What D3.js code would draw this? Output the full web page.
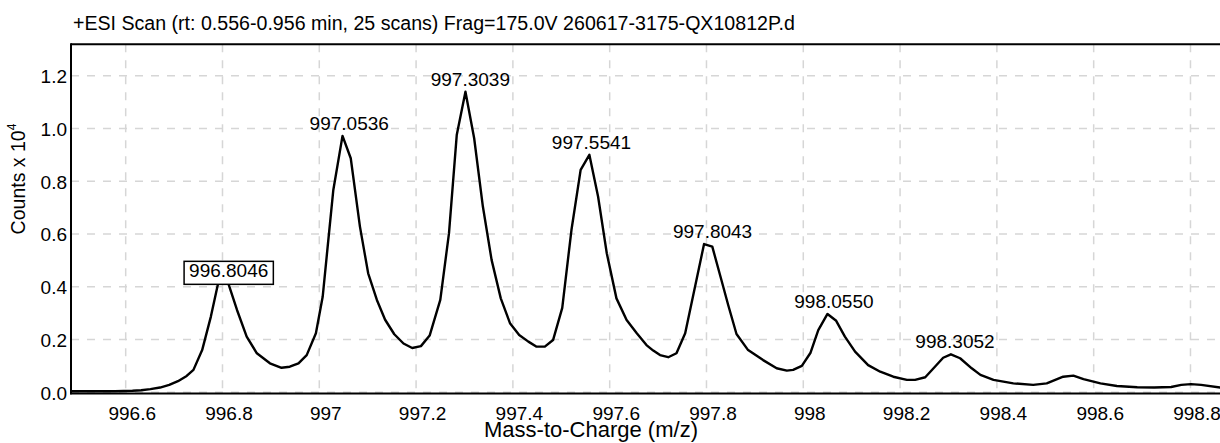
<!DOCTYPE html>
<html>
<head>
<meta charset="utf-8">
<script src="https://cdn.jsdelivr.net/npm/d3@7"></script>
<style>
  body { margin: 0; background: #fff; }
  svg { display: block; }
  text { font-family: "Liberation Sans", Arial, sans-serif; fill: #000; }
</style>
</head>
<body>
<svg id="chart" width="1220" height="443"></svg>
<script>
// Profile spectrum: m/z and intensity (Counts x 10^4)
const mz = [
  996.487, 996.505, 996.523, 996.541, 996.560, 996.578, 996.596, 996.614, 996.632, 996.651,
  996.671, 996.690, 996.708, 996.726, 996.740, 996.758, 996.776, 996.791, 996.812, 996.830,
  996.850, 996.871, 996.898, 996.922, 996.939, 996.957, 996.974, 996.993, 997.007, 997.029,
  997.048, 997.065, 997.084, 997.101, 997.119, 997.136, 997.155, 997.174, 997.192, 997.210,
  997.228, 997.250, 997.268, 997.284, 997.302, 997.320, 997.338, 997.356, 997.375, 997.394,
  997.413, 997.432, 997.449, 997.466, 997.483, 997.502, 997.521, 997.540, 997.558, 997.576,
  997.594, 997.614, 997.635, 997.656, 997.676, 997.690, 997.704, 997.721, 997.738, 997.756,
  997.795, 997.812, 997.829, 997.845, 997.862, 997.886, 997.917, 997.945, 997.966, 997.979,
  997.997, 998.015, 998.031, 998.050, 998.068, 998.086, 998.107, 998.134, 998.159, 998.186,
  998.214, 998.231, 998.252, 998.272, 998.289, 998.305, 998.324, 998.348, 998.366, 998.393,
  998.434, 998.475, 998.503, 998.537, 998.558, 998.579, 998.614, 998.648, 998.690, 998.725,
  998.760, 998.781, 998.801, 998.822, 998.863
];
const counts = [
  0.004, 0.004, 0.004, 0.004, 0.004, 0.004, 0.005, 0.006, 0.008, 0.012,
  0.018, 0.028, 0.042, 0.062, 0.085, 0.160, 0.287, 0.413, 0.413, 0.312,
  0.211, 0.148, 0.110, 0.093, 0.097, 0.110, 0.141, 0.224, 0.362, 0.767,
  0.972, 0.887, 0.628, 0.451, 0.350, 0.275, 0.220, 0.185, 0.168, 0.175,
  0.215, 0.350, 0.603, 0.975, 1.139, 0.963, 0.704, 0.502, 0.356, 0.262,
  0.217, 0.192, 0.173, 0.173, 0.198, 0.320, 0.615, 0.843, 0.900, 0.742,
  0.527, 0.356, 0.274, 0.224, 0.179, 0.158, 0.141, 0.133, 0.148, 0.224,
  0.562, 0.552, 0.438, 0.330, 0.221, 0.160, 0.122, 0.091, 0.082, 0.085,
  0.100, 0.150, 0.236, 0.297, 0.271, 0.211, 0.154, 0.103, 0.078, 0.059,
  0.047, 0.047, 0.057, 0.097, 0.131, 0.144, 0.129, 0.091, 0.066, 0.047,
  0.034, 0.028, 0.034, 0.059, 0.063, 0.050, 0.034, 0.024, 0.019, 0.018,
  0.020, 0.028, 0.031, 0.028, 0.018
];

// Annotated peaks
const peakMz = [996.8046, 997.0536, 997.3039, 997.5541, 997.8043, 998.0550, 998.3052];
const peakLabels = ["996.8046", "997.0536", "997.3039", "997.5541", "997.8043", "998.0550", "998.3052"];
const peakCounts = [0.413, 0.972, 1.139, 0.900, 0.562, 0.297, 0.144];
const boxedLabel = "996.8046";

// Axis ticks
const xTicks = [996.6, 996.8, 997.0, 997.2, 997.4, 997.6, 997.8, 998.0, 998.2, 998.4, 998.6, 998.8];
const xTickLabels = ["996.6", "996.8", "997", "997.2", "997.4", "997.6", "997.8", "998", "998.2", "998.4", "998.6", "998.8"];
const yTicks = [0, 0.2, 0.4, 0.6, 0.8, 1.0, 1.2];
const yTickLabels = ["0.0", "0.2", "0.4", "0.6", "0.8", "1.0", "1.2"];

const titleText = "+ESI Scan (rt: 0.556-0.956 min, 25 scans) Frag=175.0V 260617-3175-QX10812P.d";
const xAxisTitle = "Mass-to-Charge (m/z)";
const yAxisTitle = "Counts x 10";
const yAxisExponent = "4";

// Layout
const plot = { left: 71, right: 1220, top: 44.3, bottom: 392.3 };
const svg = d3.select("#chart");

const x = d3.scaleLinear().domain([996.487, 998.861]).range([plot.left, plot.right]);
const y = d3.scaleLinear().domain([0, 1.319]).range([plot.bottom, plot.top]);

svg.append("defs").append("clipPath").attr("id", "plot-clip")
  .append("rect")
  .attr("x", plot.left).attr("y", plot.top - 2)
  .attr("width", plot.right - plot.left).attr("height", plot.bottom - plot.top + 4);

// Dashed grid
const grid = svg.append("g").attr("class", "grid")
  .attr("stroke", "#d6d6d6").attr("stroke-width", 1.5).attr("stroke-dasharray", "8,8");
grid.selectAll("line.v").data(xTicks).join("line").attr("class", "v")
  .attr("x1", d => x(d)).attr("x2", d => x(d))
  .attr("y1", plot.top).attr("y2", plot.bottom + 1);
grid.selectAll("line.h").data(yTicks).join("line").attr("class", "h")
  .attr("x1", plot.left).attr("x2", plot.right)
  .attr("y1", d => y(d)).attr("y2", d => y(d));

// X axis tick labels
const xAxis = d3.axisBottom(x).tickValues(xTicks).tickSize(0).tickPadding(0)
  .tickFormat((d, i) => xTickLabels[i]);
const gx = svg.append("g").attr("transform", `translate(0,${plot.bottom + 1})`).call(xAxis);
gx.select(".domain").remove();
gx.selectAll("text").attr("font-size", 19).attr("dy", null).attr("y", 26.5).attr("dx", 6)
  .style("font-family", '"Liberation Sans", Arial, sans-serif');

// Y axis tick labels
const yAxis = d3.axisLeft(y).tickValues(yTicks).tickSize(0).tickPadding(4)
  .tickFormat((d, i) => yTickLabels[i]);
const gy = svg.append("g").attr("transform", `translate(${plot.left},0)`).call(yAxis);
gy.select(".domain").remove();
gy.selectAll("text").attr("font-size", 19).attr("dy", "0.36em")
  .style("font-family", '"Liberation Sans", Arial, sans-serif');

// Spectrum trace
const pts = mz.map((m, i) => [m, counts[i]]);
const line = d3.line().x(d => x(d[0])).y(d => y(d[1]));
svg.append("path").datum(pts)
  .attr("clip-path", "url(#plot-clip)")
  .attr("fill", "none").attr("stroke", "#000").attr("stroke-width", 2.4)
  .attr("stroke-linejoin", "round")
  .attr("d", line);

// Frame lines
const frame = svg.append("g").attr("stroke", "#000");
frame.append("line").attr("x1", plot.left).attr("x2", plot.right)
  .attr("y1", plot.top).attr("y2", plot.top).attr("stroke-width", 2);
frame.append("line").attr("x1", plot.left).attr("x2", plot.left)
  .attr("y1", plot.top - 1).attr("y2", plot.bottom + 2).attr("stroke-width", 2);
frame.append("line").attr("x1", plot.left - 1).attr("x2", plot.right)
  .attr("y1", plot.bottom + 1.2).attr("y2", plot.bottom + 1.2).attr("stroke-width", 2);

// Peak annotations
const labels = svg.append("g").attr("class", "peak-labels");
peakMz.forEach((m, i) => {
  const t = labels.append("text")
    .attr("x", x(m) + 4).attr("y", y(peakCounts[i]) - 6)
    .attr("text-anchor", "middle").attr("font-size", 19)
    .text(peakLabels[i]);
  if (peakLabels[i] === boxedLabel) {
    const bb = t.node().getBBox();
    labels.insert("rect", "text")
      .attr("x", bb.x - 5).attr("y", bb.y + 1)
      .attr("width", bb.width + 10).attr("height", bb.height + 2)
      .attr("fill", "#fff").attr("stroke", "#000").attr("stroke-width", 1.5);
  }
});

// Titles
svg.append("text").attr("x", 73).attr("y", 29.5).attr("font-size", 19.6).text(titleText);

svg.append("text").attr("x", 591).attr("y", 437).attr("text-anchor", "middle")
  .attr("font-size", 22).text(xAxisTitle);

const yt = svg.append("text").attr("transform", "translate(25,179) rotate(-90)")
  .attr("text-anchor", "middle").attr("font-size", 19.5);
yt.append("tspan").text(yAxisTitle);
yt.append("tspan").attr("font-size", 12).attr("dy", "-0.75em").text(yAxisExponent);
</script>
</body>
</html>
